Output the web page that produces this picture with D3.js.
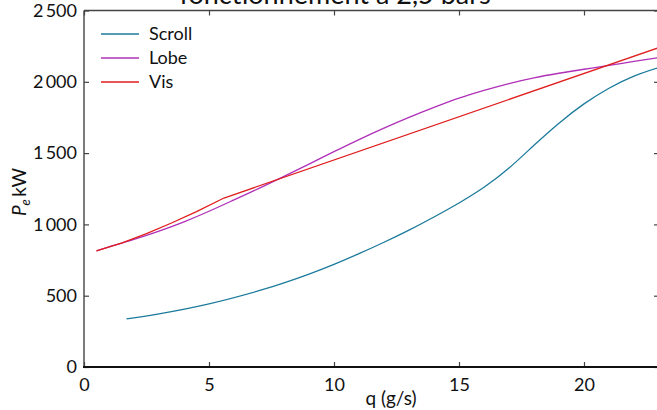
<!DOCTYPE html>
<html>
<head>
<meta charset="utf-8">
<script src="https://cdn.jsdelivr.net/npm/d3@7"></script>
<style>
  html, body { margin: 0; padding: 0; background: #fff; overflow: hidden; }
  svg { display: block; font-family: Lato, "Open Sans", sans-serif; }
</style>
</head>
<body>
<svg id="chart" width="657" height="410"></svg>
<script>
// Electric power vs. mass flow, three compressor technologies
const seriesNames = ["Scroll", "Lobe", "Vis"];
const seriesColors = ["#1c7b9c", "#b030b8", "#e01e1e"];

const scrollQ = [1.7, 3, 5, 7, 8, 9, 10, 11, 12, 13, 14, 15, 16, 17, 18, 19, 20, 21, 22, 23];
const scrollP = [337, 373, 443, 535, 590, 652, 720, 795, 875, 960, 1052, 1150, 1260, 1395, 1555, 1710, 1845, 1955, 2040, 2100];

const lobeQ = [0.5, 1, 2, 3, 4, 5, 6, 7, 8, 9, 10, 11, 12, 13, 14, 15, 16, 17, 18, 19, 20, 21, 22, 23];
const lobeP = [815, 842, 895, 953, 1018, 1092, 1172, 1253, 1337, 1423, 1510, 1595, 1675, 1750, 1820, 1885, 1940, 1988, 2028, 2060, 2088, 2115, 2143, 2170];

const visQ = [0.5, 1.5, 2.5, 3.5, 4.5, 5.6, 23];
const visP = [815, 868, 935, 1010, 1090, 1185, 2240];

const xTicks = [0, 5, 10, 15, 20];
const yTicks = [0, 500, 1000, 1500, 2000, 2500];
const yTickLabels = ["0", "500", "1\u2009000", "1\u2009500", "2\u2009000", "2\u2009500"];

const svg = d3.select("#chart");
const plot = { left: 84, top: 10.5, right: 659, bottom: 367 };

const x = d3.scaleLinear().domain([0, 23]).range([plot.left, plot.right]);
const y = d3.scaleLinear().domain([0, 2500]).range([plot.bottom, plot.top]);

svg.append("defs").append("clipPath").attr("id", "plotclip")
  .append("rect")
  .attr("x", plot.left).attr("y", plot.top)
  .attr("width", plot.right - plot.left).attr("height", plot.bottom - plot.top);

// title (upper part runs off the top edge)
svg.append("text")
  .attr("x", 335).attr("y", 4)
  .attr("text-anchor", "middle")
  .attr("font-size", 27)
  .attr("fill", "#111")
  .text("fonctionnement à 2,5 bars");

// inward ticks on all four sides
const tickLen = 5;
const axisColor = "#444";
const tickFont = 18;

// bottom axis
const bottomAxis = d3.axisBottom(x).tickValues(xTicks).tickSizeInner(-tickLen).tickSizeOuter(0)
  .tickPadding(11).tickFormat(d3.format("d"));
const gB = svg.append("g").attr("transform", `translate(0,${plot.bottom})`).call(bottomAxis);
gB.select(".domain").remove();
gB.selectAll(".tick line").attr("stroke", axisColor).attr("stroke-width", 1.2);
gB.selectAll(".tick text").attr("font-size", tickFont).attr("fill", "#111")
  .attr("font-family", "Lato, sans-serif");

// top axis (ticks only)
const topAxis = d3.axisTop(x).tickValues(xTicks).tickSizeInner(-tickLen).tickSizeOuter(0).tickFormat("");
const gT = svg.append("g").attr("transform", `translate(0,${plot.top})`).call(topAxis);
gT.select(".domain").remove();
gT.selectAll(".tick line").attr("stroke", axisColor).attr("stroke-width", 1.2);

// left axis
const leftAxis = d3.axisLeft(y).tickValues(yTicks).tickSizeInner(-tickLen).tickSizeOuter(0)
  .tickPadding(7).tickFormat((d, i) => yTickLabels[i]);
const gL = svg.append("g").attr("transform", `translate(${plot.left},0)`).call(leftAxis);
gL.select(".domain").remove();
gL.selectAll(".tick line").attr("stroke", axisColor).attr("stroke-width", 1.2);
gL.selectAll(".tick text").attr("font-size", tickFont).attr("fill", "#111")
  .attr("font-family", "Lato, sans-serif");

// right axis (ticks only)
const rightAxis = d3.axisRight(y).tickValues(yTicks).tickSizeInner(-tickLen).tickSizeOuter(0).tickFormat("");
const gR = svg.append("g").attr("transform", `translate(${plot.right},0)`).call(rightAxis);
gR.select(".domain").remove();
gR.selectAll(".tick line").attr("stroke", axisColor).attr("stroke-width", 1.2);

// frame
svg.append("line").attr("x1", plot.left).attr("x2", plot.right)
  .attr("y1", plot.top).attr("y2", plot.top)
  .attr("stroke", axisColor).attr("stroke-width", 1.3);
svg.append("line").attr("x1", plot.left).attr("x2", plot.left)
  .attr("y1", plot.top).attr("y2", plot.bottom)
  .attr("stroke", axisColor).attr("stroke-width", 1.4);
svg.append("line").attr("x1", plot.left - 1).attr("x2", plot.right)
  .attr("y1", plot.bottom).attr("y2", plot.bottom)
  .attr("stroke", "#111").attr("stroke-width", 2.2);

// data lines
const datasets = [
  { name: seriesNames[0], color: seriesColors[0], q: scrollQ, p: scrollP, curve: d3.curveNatural },
  { name: seriesNames[1], color: seriesColors[1], q: lobeQ, p: lobeP, curve: d3.curveNatural },
  { name: seriesNames[2], color: seriesColors[2], q: visQ, p: visP, curve: d3.curveLinear }
];

const gLines = svg.append("g").attr("clip-path", "url(#plotclip)");
datasets.forEach(ds => {
  const pts = ds.q.map((q, i) => [q, ds.p[i]]);
  gLines.append("path")
    .datum(pts)
    .attr("fill", "none")
    .attr("stroke", ds.color)
    .attr("stroke-width", 1.3)
    .attr("stroke-linejoin", "round")
    .attr("d", d3.line().x(d => x(d[0])).y(d => y(d[1])).curve(ds.curve));
});

// legend
const legend = svg.append("g");
datasets.forEach((ds, i) => {
  const ly = 34 + i * 24;
  legend.append("line")
    .attr("x1", 101).attr("x2", 139).attr("y1", ly).attr("y2", ly)
    .attr("stroke", ds.color).attr("stroke-width", 1.3);
  legend.append("text")
    .attr("x", 149).attr("y", ly + 6)
    .attr("font-size", 18).attr("fill", "#111")
    .text(ds.name);
});

// axis labels
svg.append("text")
  .attr("x", 391).attr("y", 405)
  .attr("text-anchor", "middle")
  .attr("font-size", 19).attr("fill", "#111")
  .text("q (g/s)");

const yl = svg.append("text")
  .attr("transform", "translate(26,192) rotate(-90)")
  .attr("text-anchor", "middle")
  .attr("font-size", 19).attr("fill", "#111");
yl.append("tspan").attr("font-style", "italic").text("P");
yl.append("tspan").attr("font-style", "italic").attr("font-size", 13).attr("dy", 4).text("e");
yl.append("tspan").attr("dy", -4).text("\u2009kW");
</script>
</body>
</html>
